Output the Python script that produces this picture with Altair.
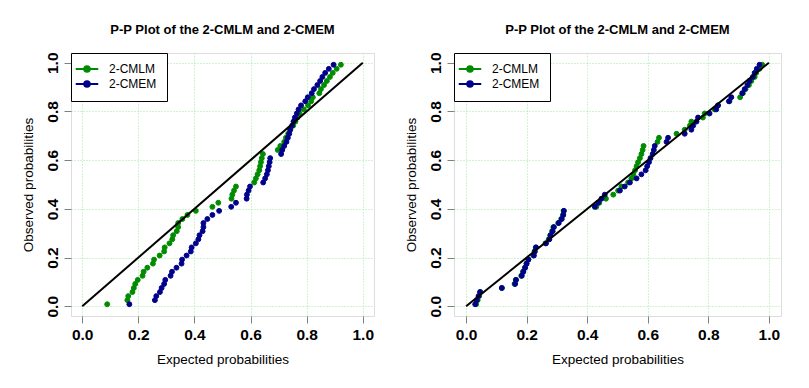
import altair as alt
import pandas as pd

# Observed (empirical) probabilities, shared by every series: (i - 0.5) / 60
probs = [0.0083, 0.0250, 0.0417, 0.0583, 0.0750, 0.0917, 0.1083, 0.1250, 0.1417, 0.1583,
         0.1750, 0.1917, 0.2083, 0.2250, 0.2417, 0.2583, 0.2750, 0.2917, 0.3083, 0.3250,
         0.3417, 0.3583, 0.3750, 0.3917, 0.4083, 0.4250, 0.4417, 0.4583, 0.4750, 0.4917,
         0.5083, 0.5250, 0.5417, 0.5583, 0.5750, 0.5917, 0.6083, 0.6250, 0.6417, 0.6583,
         0.6750, 0.6917, 0.7083, 0.7250, 0.7417, 0.7583, 0.7750, 0.7917, 0.8083, 0.8250,
         0.8417, 0.8583, 0.8750, 0.8917, 0.9083, 0.9250, 0.9417, 0.9583, 0.9750, 0.9917]

# Expected probabilities, left panel
left_cmlm = [0.089, 0.161, 0.164, 0.179, 0.184, 0.189, 0.198, 0.215, 0.219, 0.232,
             0.252, 0.256, 0.276, 0.292, 0.294, 0.311, 0.321, 0.324, 0.337, 0.342,
             0.342, 0.357, 0.375, 0.405, 0.464, 0.485, 0.532, 0.535, 0.541, 0.548,
             0.613, 0.619, 0.625, 0.631, 0.634, 0.637, 0.640, 0.644, 0.697, 0.706,
             0.720, 0.726, 0.734, 0.742, 0.752, 0.760, 0.767, 0.775, 0.790, 0.805,
             0.816, 0.822, 0.845, 0.851, 0.862, 0.872, 0.883, 0.893, 0.907, 0.922]
left_cmem = [0.168, 0.259, 0.264, 0.277, 0.283, 0.292, 0.296, 0.315, 0.320, 0.336,
             0.354, 0.356, 0.372, 0.387, 0.390, 0.405, 0.414, 0.418, 0.429, 0.432,
             0.432, 0.446, 0.464, 0.488, 0.531, 0.548, 0.586, 0.587, 0.593, 0.598,
             0.645, 0.652, 0.658, 0.662, 0.665, 0.668, 0.670, 0.709, 0.713, 0.720,
             0.728, 0.733, 0.738, 0.741, 0.748, 0.753, 0.758, 0.765, 0.771, 0.780,
             0.795, 0.804, 0.818, 0.826, 0.838, 0.848, 0.856, 0.866, 0.879, 0.896]

# Expected probabilities, right panel
right_cmlm = [0.033, 0.038, 0.043, 0.047, 0.118, 0.160, 0.164, 0.182, 0.188, 0.194,
              0.199, 0.205, 0.222, 0.226, 0.230, 0.262, 0.273, 0.278, 0.284, 0.288,
              0.304, 0.314, 0.320, 0.322, 0.430, 0.440, 0.462, 0.486, 0.502, 0.513,
              0.535, 0.546, 0.552, 0.558, 0.563, 0.568, 0.574, 0.579, 0.583, 0.586,
              0.632, 0.637, 0.695, 0.722, 0.739, 0.744, 0.782, 0.788, 0.821, 0.832,
              0.870, 0.905, 0.914, 0.923, 0.934, 0.942, 0.953, 0.958, 0.969, 0.978]
right_cmem = [0.030, 0.035, 0.041, 0.046, 0.118, 0.162, 0.165, 0.184, 0.189, 0.195,
              0.200, 0.206, 0.224, 0.227, 0.231, 0.264, 0.275, 0.279, 0.286, 0.290,
              0.306, 0.316, 0.321, 0.323, 0.425, 0.436, 0.447, 0.458, 0.508, 0.524,
              0.541, 0.563, 0.579, 0.593, 0.598, 0.604, 0.609, 0.616, 0.620, 0.623,
              0.662, 0.667, 0.722, 0.744, 0.750, 0.761, 0.766, 0.804, 0.826, 0.832,
              0.868, 0.876, 0.912, 0.920, 0.929, 0.936, 0.947, 0.953, 0.960, 0.969]

series_names = ["2-CMLM", "2-CMEM"]
series_colors = ["#008B00", "#00008B"]
ref_line = [0.0, 1.0]
tick_vals = [0.0, 0.2, 0.4, 0.6, 0.8, 1.0]
title_text = "P-P Plot of the 2-CMLM and 2-CMEM"

FONT = "Liberation Sans"
GRID = "#9EEA9E"
BOXC = "#808080"

legend_symbol = ("M-2.5,0L2.5,0M-0.62,0A0.62,0.62,0,1,1,0.62,0"
                 "A0.62,0.62,0,1,1,-0.62,0Z")


def panel(x_cmlm, x_cmem, width, height):
    pts = pd.DataFrame({
        "expected": x_cmlm + x_cmem,
        "observed": probs + probs,
        "series": [series_names[0]] * len(x_cmlm) + [series_names[1]] * len(x_cmem),
        "ord": [0] * len(x_cmlm) + [1] * len(x_cmem),
    })
    line_df = pd.DataFrame({"expected": ref_line, "observed": ref_line})

    xs = alt.Scale(domain=[-0.04, 1.04], nice=False, zero=False)
    ys = alt.Scale(domain=[-0.04, 1.04], nice=False, zero=False)
    common_axis = dict(values=tick_vals, format=".1f", grid=True, gridColor=GRID,
                       gridDash=[1, 2], gridWidth=1, domain=False,
                       tickColor=BOXC, tickSize=7, tickWidth=1,
                       labelFont=FONT, labelFontSize=15.5, labelFontWeight="bold",
                       labelColor="black", titleFont=FONT, titleFontSize=13.5,
                       titleFontWeight="normal", titleColor="black")
    x_axis = alt.Axis(title="Expected probabilities", labelPadding=4,
                      titlePadding=10, **common_axis)
    y_axis = alt.Axis(title="Observed probabilities", labelAngle=-90,
                      labelPadding=4, titlePadding=10, **common_axis)

    legend = alt.Legend(title=None, orient="top-left", offset=0, padding=10,
                        strokeColor="black", fillColor="white", cornerRadius=0,
                        symbolType=legend_symbol, symbolSize=81,
                        symbolStrokeWidth=2, labelFont=FONT, labelFontSize=12,
                        labelColor="black", labelOffset=16, rowPadding=1)

    points = alt.Chart(pts).mark_circle(size=24, opacity=1, strokeWidth=1).encode(
        x=alt.X("expected:Q", scale=xs, axis=x_axis),
        y=alt.Y("observed:Q", scale=ys, axis=y_axis),
        fill=alt.Fill("series:N", scale=alt.Scale(domain=series_names, range=series_colors),
                      legend=legend, sort=series_names),
        stroke=alt.Stroke("series:N", scale=alt.Scale(domain=series_names, range=series_colors),
                          legend=legend, sort=series_names),
        order=alt.Order("ord:Q"),
    )
    line = alt.Chart(line_df).mark_line(color="black", strokeWidth=2).encode(
        x=alt.X("expected:Q", scale=xs, axis=x_axis),
        y=alt.Y("observed:Q", scale=ys, axis=y_axis),
    )
    return alt.layer(points, line).properties(
        width=width, height=height,
        title=alt.TitleParams(title_text, font=FONT, fontSize=13, fontWeight="bold",
                              anchor="middle", color="black", offset=15),
    )


left = panel(left_cmlm, left_cmem, 303, 263)
right = panel(right_cmlm, right_cmem, 327, 263)

chart = alt.hconcat(left, right, spacing=28).resolve_scale(
    fill="independent", stroke="independent"
).properties(
    padding={"left": 12, "top": 15, "right": 5, "bottom": 5}
).configure_view(stroke=BOXC, strokeWidth=1.5).configure(background="white")

chart.save("out.html", embed_options={"renderer": "svg", "actions": False})
